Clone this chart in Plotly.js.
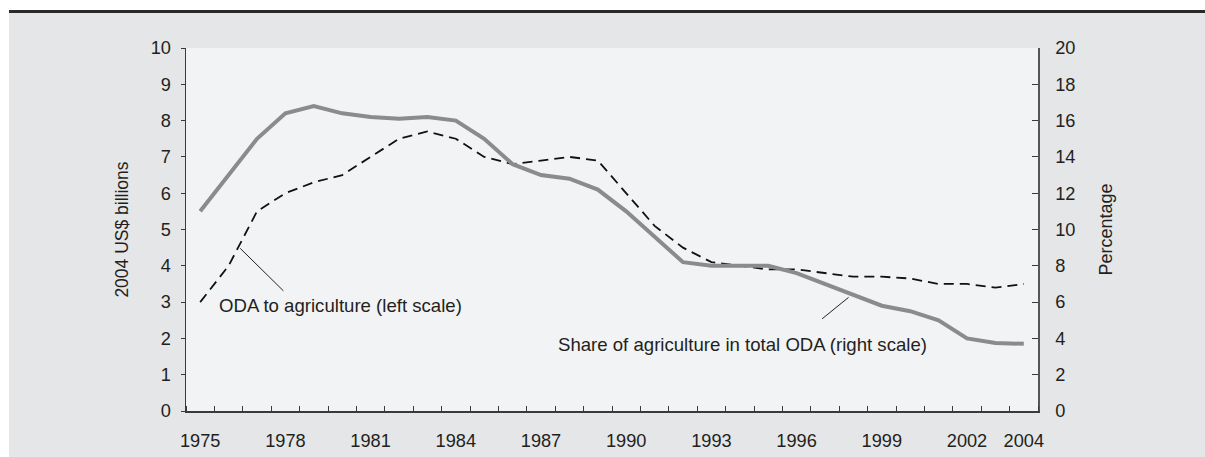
<!DOCTYPE html>
<html>
<head>
<meta charset="utf-8">
<script src="https://cdn.plot.ly/plotly-3.0.1.min.js"></script>
<style>
  html, body { margin: 0; padding: 0; background: #ffffff; overflow: hidden; }
  #bg { position: absolute; left: 9px; top: 13px; width: 1196px; height: 444px; background: #e5e6e8; }
  #topline { position: absolute; left: 9px; top: 10px; width: 1196px; height: 3px; background: #2a2a2a; }
  #chart { position: absolute; left: 0; top: 0; width: 1205px; height: 457px; }
</style>
</head>
<body>
<div id="bg"></div>
<div id="topline"></div>
<div id="chart"></div>
<script>
// Years 1975-2004
const years = [1975,1976,1977,1978,1979,1980,1981,1982,1983,1984,1985,1986,1987,1988,1989,
               1990,1991,1992,1993,1994,1995,1996,1997,1998,1999,2000,2001,2002,2003,2004];
// ODA to agriculture, 2004 US$ billions (left scale)
const odaAgriculture = [3.0,4.0,5.5,6.0,6.3,6.5,7.0,7.5,7.7,7.5,7.0,6.8,6.9,7.0,6.9,
                        6.0,5.1,4.5,4.1,4.0,3.9,3.9,3.8,3.7,3.7,3.65,3.5,3.5,3.4,3.5];
// Share of agriculture in total ODA, percentage (right scale)
const shareAgriculture = [11.0,13.0,15.0,16.4,16.8,16.4,16.2,16.1,16.2,16.0,15.0,13.6,13.0,12.8,12.2,
                          11.0,9.6,8.2,8.0,8.0,8.0,7.6,7.0,6.4,5.8,5.5,5.0,4.0,3.75,3.7];
// Axis tick labels
const xTickYears = [1975,1978,1981,1984,1987,1990,1993,1996,1999,2002,2004];
const xTickText = xTickYears.map(String);
const leftTicks = [0,1,2,3,4,5,6,7,8,9,10];
const rightTicks = [0,2,4,6,8,10,12,14,16,18,20];
// Labels
const leftTitle = "2004 US$ billions";
const rightTitle = "Percentage";
const odaLabel = "ODA to agriculture (left scale)";
const shareLabel = "Share of agriculture in total ODA (right scale)";

const font = 'Liberation Sans, Arial, Helvetica, sans-serif';
const txt = '#231f20';
const axisCol = '#3a3a3a';
const tickSize = 18.2;

const traces = [
  {
    x: years, y: shareAgriculture, yaxis: 'y2', type: 'scatter', mode: 'lines',
    name: 'Share of agriculture in total ODA',
    line: { color: '#8b8b8b', width: 4 }
  },
  {
    x: years, y: odaAgriculture, yaxis: 'y', type: 'scatter', mode: 'lines',
    name: 'ODA to agriculture',
    line: { color: '#111111', width: 1.8, dash: '10px,6px' }
  }
];

const layout = {
  width: 1205, height: 457,
  margin: { l: 186, r: 167, t: 48, b: 46, pad: 0 },
  paper_bgcolor: 'rgba(0,0,0,0)',
  plot_bgcolor: '#f2f3f5',
  showlegend: false,
  font: { family: font, size: tickSize, color: txt },
  xaxis: {
    range: [1974.5, 2004.5],
    tickmode: 'array', tickvals: xTickYears, ticktext: xTickText,
    ticks: '', showgrid: false, zeroline: false,
    showline: true, linecolor: axisCol, linewidth: 1.5,
    tickfont: { family: font, size: tickSize, color: txt },
    ticklabelstandoff: 13,
    minor: { tick0: 1974.5, dtick: 1, ticks: 'inside', ticklen: 5, tickwidth: 1, tickcolor: axisCol, showgrid: false }
  },
  yaxis: {
    range: [0, 10], tickmode: 'array', tickvals: leftTicks,
    ticks: 'outside', ticklen: 4, tickwidth: 1, tickcolor: axisCol,
    showgrid: false, zeroline: false,
    showline: true, linecolor: axisCol, linewidth: 1.5,
    tickfont: { family: font, size: tickSize, color: txt },
    ticklabelstandoff: 6,
    title: { text: leftTitle, font: { family: font, size: 17.5, color: txt }, standoff: 17 }
  },
  yaxis2: {
    range: [0, 20], tickmode: 'array', tickvals: rightTicks,
    overlaying: 'y', side: 'right',
    ticks: 'inside', ticklen: 6, tickwidth: 1, tickcolor: axisCol,
    showgrid: false, zeroline: false,
    showline: true, linecolor: '#555555', linewidth: 1.5,
    tickfont: { family: font, size: tickSize, color: txt },
    ticklabelstandoff: 12,
    title: { text: rightTitle, font: { family: font, size: 18, color: txt }, standoff: 25 }
  },
  shapes: [
    { type: 'line', xref: 'x', yref: 'y', x0: 1976.41, y0: 4.48, x1: 1977.93, y1: 3.31,
      line: { color: '#222', width: 1 } },
    { type: 'line', xref: 'x', yref: 'y2', x0: 1997.83, y0: 6.26, x1: 1996.9, y1: 5.08,
      line: { color: '#222', width: 1 } }
  ],
  annotations: [
    { xref: 'x', yref: 'y', x: 1975.6, y: 2.92, text: odaLabel, showarrow: false,
      xanchor: 'left', yanchor: 'middle', font: { family: font, size: 18.6, color: txt } },
    { xref: 'x', yref: 'y', x: 1987.54, y: 1.82, text: shareLabel, showarrow: false,
      xanchor: 'left', yanchor: 'middle', font: { family: font, size: 18.6, color: txt } }
  ]
};

Plotly.newPlot('chart', traces, layout, { staticPlot: true, displayModeBar: false });
</script>
</body>
</html>
